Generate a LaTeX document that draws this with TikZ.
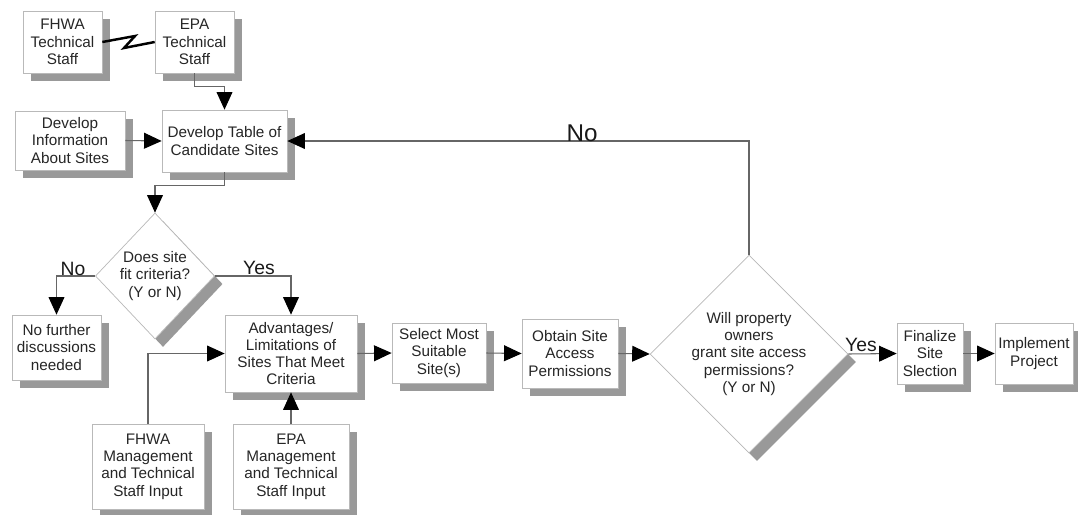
\documentclass[tikz,border=0pt]{standalone}
\usepackage{fontspec}
\setmainfont{Liberation Sans}
\usetikzlibrary{shapes.geometric,shadows,arrows.meta}

\begin{document}
\begin{tikzpicture}[x=0.02cm,y=-0.02cm,
	box/.style={draw=gray!55, fill=white, align=center, inner sep=1pt, text=black!85,
		font=\fontsize{8.7}{9.8}\selectfont,
		drop shadow={shadow xshift=0.16cm, shadow yshift=-0.16cm, fill=gray!80, opacity=1}},
	decision/.style={box, diamond, inner sep=0pt},
	link/.style={draw=black!60, line width=0.6pt},
	arr/.style={link, -{Triangle[width=9pt,length=10pt,color=black]}},
	answer/.style={font=\fontsize{11}{11}\selectfont, text=black!90}]
	%\draw[help lines] (0,0) grid[step=50] (1078,514);
	\useasboundingbox (0,0) rectangle (1078,514);
	\node[box, minimum width=1.58cm, minimum height=1.24cm] (fhwaTech) at (62.5,42) {FHWA\\Technical\\Staff};
	\node[box, minimum width=1.58cm, minimum height=1.24cm] (epaTech) at (194.5,42) {EPA\\Technical\\Staff};
	\node[box, minimum width=2.2cm, minimum height=1.18cm] (devInfo) at (70,140.5) {Develop\\Information\\About Sites};
	\node[box, minimum width=2.5cm, minimum height=1.24cm] (devTable) at (224.5,141) {Develop Table of\\Candidate Sites};
	\node[decision, minimum width=2.32cm, minimum height=2.52cm] (fitCheck) at (155,276) {Does site\\fit criteria?\\(Y or N)};
	\node[box, minimum width=1.78cm, minimum height=1.3cm] (noFurther) at (56.5,347.5) {No further\\discussions\\needed};
	\node[box, minimum width=2.64cm, minimum height=1.54cm] (advLim) at (291,353.5) {Advantages/\\Limitations of\\Sites That Meet\\Criteria};
	\node[box, minimum width=2.24cm, minimum height=1.7cm] (fhwaMgmt) at (148,466.5) {FHWA\\Management\\and Technical\\Staff Input};
	\node[box, minimum width=2.32cm, minimum height=1.7cm] (epaMgmt) at (291,466.5) {EPA\\Management\\and Technical\\Staff Input};
	\node[box, minimum width=1.88cm, minimum height=1.2cm] (selectSite) at (439,353) {Select Most\\Suitable\\Site(s)};
	\node[box, minimum width=1.92cm, minimum height=1.38cm] (obtainPerm) at (570,353.5) {Obtain Site\\Access\\Permissions};
	\node[decision, minimum width=3.84cm, minimum height=3.16cm] (grantCheck) at (749,354) {Will property\\owners\\grant site access\\permissions?\\(Y or N)};
	\node[box, minimum width=1.32cm, minimum height=1.22cm] (finalize) at (930,353.5) {Finalize\\Site\\Slection};
	\node[box, minimum width=1.56cm, minimum height=1.22cm] (implement) at (1034,353.5) {Implement\\Project};
	% lightning between the staffs
	\draw[line width=1.4pt, line join=miter] (fhwaTech.east) -- (135,36) -- (124,48) -- (epaTech.west);
	\draw[arr] (epaTech.south) -- ++(0,13) -| (devTable.north);
	\draw[arr] (devInfo.east) -- (devTable.west);
	\draw[arr] (devTable.south) -- ++(0,13) -| (fitCheck.north);
	\draw[arr] (fitCheck.west) -| (noFurther.north);
	\draw[arr] (fitCheck.east) -| (advLim.north);
	\draw[arr] (fhwaMgmt.north) |- (advLim.west);
	\draw[arr] (epaMgmt.north) -- (advLim.south);
	\draw[arr] (advLim.east) -- (selectSite.west);
	\draw[arr] (selectSite.east) -- (obtainPerm.west);
	\draw[arr] (obtainPerm.east) -- (grantCheck.west);
	\draw[arr] (grantCheck.east) -- (finalize.west);
	\draw[arr] (finalize.east) -- (implement.west);
	\draw[arr] (grantCheck.north) |- (devTable.east);
	\node[answer] (noFit) at (73,268.5) {No};
	\node[answer] (yesFit) at (259,268) {Yes};
	\node[answer] (yesGrant) at (861,345) {Yes};
	\node[answer, font=\fontsize{13.8}{14}\selectfont] (noGrant) at (582,133) {No};
\end{tikzpicture}
\end{document}
